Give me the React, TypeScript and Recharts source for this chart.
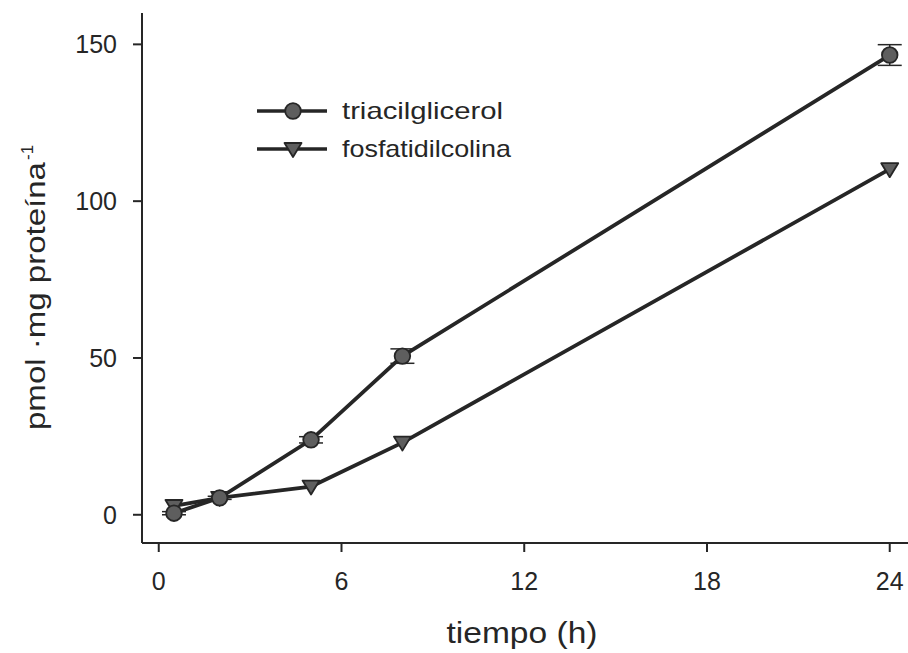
import React from "react";
import { LineChart, Line, XAxis, YAxis, ErrorBar } from "recharts";

const hours = [0.5, 2, 5, 8, 24];
const triacilglicerol = [0.5, 5.4, 23.9, 50.6, 146.6];
const triacilglicerolErr = [0.5, 0.5, 1.0, 2.3, 3.3];
const fosfatidilcolina = [2.8, 5.4, 9.0, 23.0, 110.2];

const xTicks = [0, 6, 12, 18, 24];
const yTicks = [0, 50, 100, 150];

const data = hours.map((t, i) => ({
  t,
  tag: triacilglicerol[i],
  tagErr: triacilglicerolErr[i],
  pc: fosfatidilcolina[i],
}));

const FONT = '"Liberation Sans", Arial, sans-serif';
const INK = "#262626";
const MARK = "#5e5e5e";

function CircleDot(props: any) {
  const { cx, cy } = props;
  if (cx == null || cy == null) return null;
  return <circle cx={cx} cy={cy} r={7.8} fill={MARK} stroke={INK} strokeWidth={1.8} />;
}

function TriangleDot(props: any) {
  const { cx, cy } = props;
  if (cx == null || cy == null) return null;
  const w = 8.5;
  return (
    <path
      d={`M${cx - w},${cy - 6} L${cx + w},${cy - 6} L${cx},${cy + 8} Z`}
      fill={MARK}
      stroke={INK}
      strokeWidth={1.8}
      strokeLinejoin="round"
    />
  );
}

// rotated y title, stretched to the width seen in the original
function YLabel() {
  const x = 45;
  const y0 = 430;
  const len = 268;
  return (
    <g>
      <text
        x={x}
        y={y0}
        transform={`rotate(-90 ${x} ${y0})`}
        textLength={len}
        lengthAdjust="spacingAndGlyphs"
        fontFamily={FONT}
        fontSize={27}
        fill={INK}
      >
        pmol ·mg proteína
      </text>
      <text
        x={x - 12}
        y={y0 - len - 2}
        transform={`rotate(-90 ${x - 12} ${y0 - len - 2})`}
        fontFamily={FONT}
        fontSize={17}
        fill={INK}
      >
        -1
      </text>
    </g>
  );
}

function XLabel(props: any) {
  const vb = props.viewBox || {};
  const cx = (vb.x ?? 142) + (vb.width ?? 766) / 2 - 3;
  return (
    <text
      x={cx}
      y={643}
      textAnchor="middle"
      textLength={151}
      lengthAdjust="spacingAndGlyphs"
      fontFamily={FONT}
      fontSize={29}
      fill={INK}
    >
      tiempo (h)
    </text>
  );
}

function LegendBox() {
  const rows = [
    { name: "triacilglicerol", Dot: CircleDot, len: 161 },
    { name: "fosfatidilcolina", Dot: TriangleDot, len: 169 },
  ];
  return (
    <svg width={280} height={80} style={{ position: "absolute", left: 255, top: 95 }}>
      {rows.map((r, i) => {
        const y = 16 + i * 38;
        return (
          <g key={r.name}>
            <line x1={2} y1={y} x2={72} y2={y} stroke={INK} strokeWidth={3.5} />
            <r.Dot cx={38} cy={y} />
            <text
              x={87}
              y={y + 8}
              textLength={r.len}
              lengthAdjust="spacingAndGlyphs"
              fontFamily={FONT}
              fontSize={24}
              fill={INK}
            >
              {r.name}
            </text>
          </g>
        );
      })}
    </svg>
  );
}

export default function App() {
  return (
    <div style={{ position: "absolute", left: 0, top: 0, width: 908, height: 653, background: "#fff" }}>
      <LineChart width={908} height={653} data={data} margin={{ top: 13, right: 0, bottom: 0, left: 0 }}>
        <XAxis
          type="number"
          dataKey="t"
          domain={[-0.55, 24.6]}
          ticks={xTicks}
          allowDataOverflow
          height={110}
          stroke={INK}
          strokeWidth={2}
          tickSize={9}
          tickMargin={20}
          tick={{ fill: INK, fontSize: 25, fontFamily: FONT }}
          label={<XLabel />}
        />
        <YAxis
          type="number"
          domain={[-9, 160]}
          ticks={yTicks}
          allowDataOverflow
          width={142}
          stroke={INK}
          strokeWidth={2}
          tickSize={9}
          tickMargin={16}
          tick={{ fill: INK, fontSize: 25, fontFamily: FONT }}
          label={<YLabel />}
        />
        <Line
          dataKey="pc"
          stroke={INK}
          strokeWidth={3.8}
          dot={<TriangleDot />}
          activeDot={false}
          isAnimationActive={false}
        />
        <Line
          dataKey="tag"
          stroke={INK}
          strokeWidth={3.8}
          dot={<CircleDot />}
          activeDot={false}
          isAnimationActive={false}
        >
          <ErrorBar dataKey="tagErr" width={12} stroke={INK} strokeWidth={1.5} />
        </Line>
      </LineChart>
      <LegendBox />
    </div>
  );
}
